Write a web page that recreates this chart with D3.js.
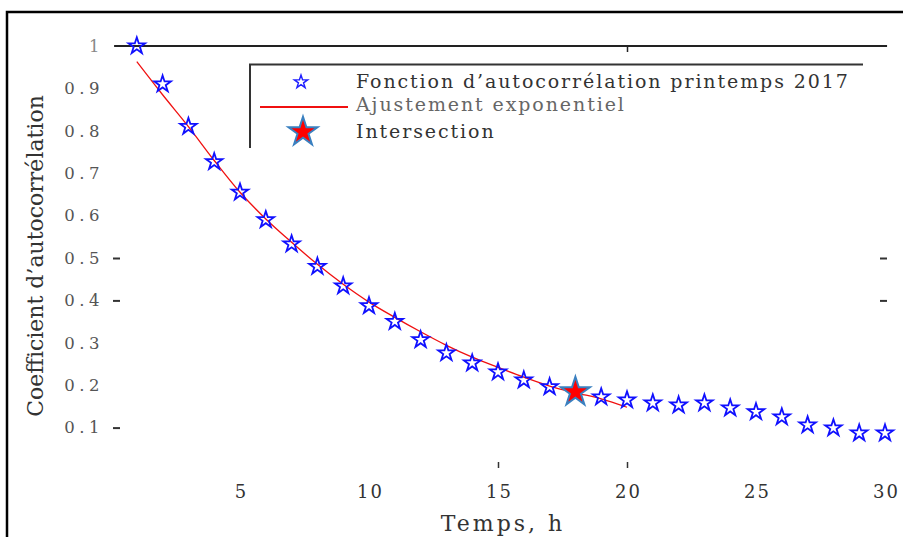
<!DOCTYPE html>
<html>
<head>
<meta charset="utf-8">
<script src="https://cdn.jsdelivr.net/npm/d3@7"></script>
<style>
  body { margin: 0; background: #fff; }
  svg { display: block; }
  text { font-family: "DejaVu Serif", serif; }
</style>
</head>
<body>
<svg class="chart"></svg>
<script>
// hours (lag) and autocorrelation values
var hours = [1, 2, 3, 4, 5, 6, 7, 8, 9, 10, 11, 12, 13, 14, 15,
	16, 17, 18, 19, 20, 21, 22, 23, 24, 25, 26, 27, 28, 29, 30];
var acfValues = [1.0, 0.91, 0.81, 0.727, 0.655, 0.59, 0.533, 0.48, 0.434, 0.387,
	0.35, 0.307, 0.276, 0.252, 0.231, 0.212, 0.196, 0.184, 0.172, 0.165,
	0.158, 0.153, 0.158, 0.146, 0.137, 0.125, 0.106, 0.099, 0.087, 0.087];

// exponential fit
var fitHours = [1, 2, 3, 4, 5, 6, 7, 8, 9, 10, 11, 12, 13, 14, 15, 16, 17, 18, 19, 20];
var fitValues = [0.963, 0.885, 0.81, 0.73, 0.655, 0.592, 0.537, 0.485, 0.438, 0.396,
	0.36, 0.326, 0.294, 0.266, 0.242, 0.219, 0.198, 0.182, 0.168, 0.148];

var intersectionPoint = [18, 0.184];

var xTicks = [5, 10, 15, 20, 25, 30];
var yTicks = [1, 0.9, 0.8, 0.7, 0.6, 0.5, 0.4, 0.3, 0.2, 0.1];
var yTickLabels = ["1", "0.9", "0.8", "0.7", "0.6", "0.5", "0.4", "0.3", "0.2", "0.1"];

var legendLabels = ["Fonction d\u2019autocorr\u00e9lation printemps 2017",
	"Ajustement exponentiel", "Intersection"];

var w = 903, h = 537;

var chart = d3.select(".chart")
	.attr("width", w)
	.attr("height", h);

// outer frame (runs off the right and bottom edges)
chart.append("rect")
	.attr("x", 7).attr("y", 12)
	.attr("width", 910).attr("height", 540)
	.attr("fill", "none")
	.attr("stroke", "#000")
	.attr("stroke-width", 2.5);

var xScale = d3.scaleLinear().domain([0, 30]).range([111, 885]);
var yScale = d3.scaleLinear().domain([0, 1]).range([470, 46]);

// top rule at y = 1
chart.append("line")
	.attr("x1", xScale(0.12)).attr("x2", xScale(30.08))
	.attr("y1", yScale(1)).attr("y2", yScale(1))
	.attr("stroke", "#222")
	.attr("stroke-width", 2);

// a lone tick under the top rule
chart.append("g")
	.attr("transform", "translate(0," + yScale(1) + ")")
	.call(d3.axisBottom(xScale).tickValues([20]).tickSize(6).tickFormat(""))
	.call(function(g) { g.select(".domain").remove(); })
	.selectAll("line").attr("stroke", "#222").attr("stroke-width", 1.5);

// Y labels
var yAxis = chart.append("g")
	.attr("transform", "translate(104,0)")
	.call(d3.axisLeft(yScale).tickValues(yTicks).tickSize(0).tickPadding(0)
		.tickFormat(function(d, i) { return yTickLabels[i]; }));
yAxis.select(".domain").remove();
yAxis.selectAll("text")
	.attr("font-family", "DejaVu Serif")
	.attr("font-size", 16.5)
	.attr("letter-spacing", 4.5)
	.attr("fill", function(d) { return d === 1 ? "#888" : "#555"; });

// Y tick marks (only some of them survived in the figure)
chart.append("g")
	.attr("transform", "translate(120,0)")
	.call(d3.axisLeft(yScale).tickValues([0.5, 0.4, 0.1]).tickSize(7).tickFormat(""))
	.call(function(g) { g.select(".domain").remove(); })
	.selectAll("line").attr("stroke", "#333").attr("stroke-width", 2);

chart.append("g")
	.attr("transform", "translate(880,0)")
	.call(d3.axisRight(yScale).tickValues([0.5, 0.4]).tickSize(7).tickFormat(""))
	.call(function(g) { g.select(".domain").remove(); })
	.selectAll("line").attr("stroke", "#333").attr("stroke-width", 2);

// X labels
var xAxis = chart.append("g")
	.attr("transform", "translate(0,485)")
	.call(d3.axisBottom(xScale).tickValues(xTicks).tickSize(0).tickPadding(0));
xAxis.select(".domain").remove();
xAxis.selectAll("text")
	.attr("font-family", "DejaVu Serif")
	.attr("font-size", 18)
	.attr("letter-spacing", 2)
	.attr("dx", 1)
	.attr("fill", "#333");

chart.append("g")
	.attr("transform", "translate(0,462)")
	.call(d3.axisBottom(xScale).tickValues([15, 20]).tickSize(6).tickFormat(""))
	.call(function(g) { g.select(".domain").remove(); })
	.selectAll("line").attr("stroke", "#333").attr("stroke-width", 1.5);

// axis titles
chart.append("text")
	.attr("x", 503).attr("y", 531)
	.attr("text-anchor", "middle")
	.attr("font-size", 22)
	.attr("letter-spacing", 3)
	.attr("fill", "#333")
	.text("Temps, h");

chart.append("text")
	.attr("transform", "translate(43,256) rotate(-90)")
	.attr("text-anchor", "middle")
	.attr("font-size", 22)
	.attr("fill", "#333")
	.text("Coefficient d\u2019autocorr\u00e9lation");

// fit curve
var line = d3.line()
	.x(function(d, i) { return xScale(fitHours[i]); })
	.y(function(d) { return yScale(d); })
	.curve(d3.curveMonotoneX);

chart.append("path")
	.datum(fitValues)
	.attr("d", line)
	.attr("fill", "none")
	.attr("stroke", "#f01010")
	.attr("stroke-width", 1.3);

// data stars
var smallStar = d3.symbol().type(d3.symbolStar).size(85);
var bigStar = d3.symbol().type(d3.symbolStar).size(260);

chart.append("g").selectAll("path")
	.data(acfValues)
	.enter().append("path")
	.attr("transform", function(d, i) {
		return "translate(" + xScale(hours[i]) + "," + yScale(d) + ")";
	})
	.attr("d", smallStar)
	.attr("fill", "none")
	.attr("stroke", "#1010ff")
	.attr("stroke-width", 1.8);

// intersection
chart.append("path")
	.attr("transform", "translate(" + xScale(intersectionPoint[0]) + "," + yScale(intersectionPoint[1]) + ")")
	.attr("d", bigStar)
	.attr("fill", "#f00")
	.attr("stroke", "#3a80c0")
	.attr("stroke-width", 2);

// legend
var legend = chart.append("g");
legend.append("path")
	.attr("d", "M250,148 V64.5 H863")
	.attr("fill", "none")
	.attr("stroke", "#333")
	.attr("stroke-width", 2);

legend.append("path")
	.attr("transform", "translate(301,82)")
	.attr("d", d3.symbol().type(d3.symbolStar).size(55))
	.attr("fill", "none")
	.attr("stroke", "#2020ff")
	.attr("stroke-width", 1.4);

legend.append("line")
	.attr("x1", 260).attr("x2", 348)
	.attr("y1", 107).attr("y2", 107)
	.attr("stroke", "#f01010")
	.attr("stroke-width", 2);

legend.append("path")
	.attr("transform", "translate(303,132)")
	.attr("d", bigStar)
	.attr("fill", "#f00")
	.attr("stroke", "#3a80c0")
	.attr("stroke-width", 2);

var legendY = [88, 111, 138];
legend.selectAll("text.lab")
	.data(legendLabels)
	.enter().append("text")
	.attr("class", "lab")
	.attr("x", 356)
	.attr("y", function(d, i) { return legendY[i]; })
	.attr("font-size", 19)
	.attr("letter-spacing", 1.9)
	.attr("fill", function(d, i) { return i === 1 ? "#666" : "#333"; })
	.text(function(d) { return d; });
</script>
</body>
</html>
